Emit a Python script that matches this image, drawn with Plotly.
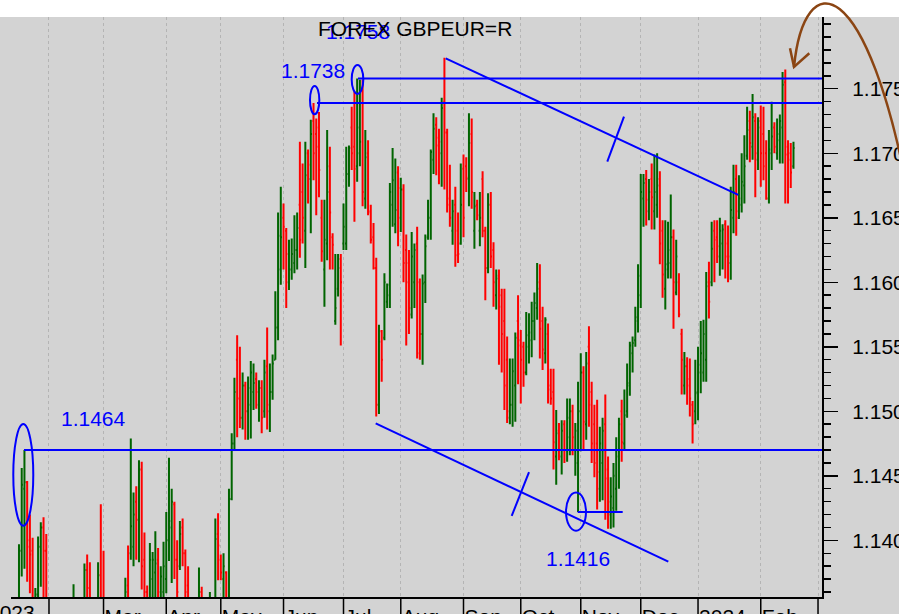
import pandas as pd
import plotly.graph_objects as go

# ---------------- data (daily OHLC, weekdays) ----------------
dates = pd.bdate_range("2023-01-17", "2024-02-19")

opens = [
    # Jan 2023
    1.1330, 1.1392, 1.1440, 1.1445, 1.1400, 1.1392, 1.1335, 1.1358, 1.1395, 1.1410, 1.1392,
    # Feb
    1.1350, 1.1300, 1.1265, 1.1285, 1.1250, 1.1270, 1.1295, 1.1320, 1.1290, 1.1310,
    1.1340, 1.1280, 1.1265, 1.1290, 1.1377, 1.1363, 1.1340, 1.1310, 1.1300, 1.1373,
    # Mar
    1.1350, 1.1330, 1.1300, 1.1290, 1.1275, 1.1250, 1.1270, 1.1300, 1.1330, 1.1365, 1.1390, 1.1395,
    1.1430, 1.1416, 1.1455, 1.1385, 1.1360, 1.1330, 1.1370, 1.1375, 1.1385, 1.1350, 1.1360,
    # Apr
    1.1370, 1.1400, 1.1410, 1.1428, 1.1385, 1.1380, 1.1410, 1.1390, 1.1365, 1.1340,
    1.1310, 1.1340, 1.1320, 1.1360, 1.1340, 1.1310, 1.1330, 1.1350, 1.1335, 1.1405,
    # May
    1.1385, 1.1370, 1.1375, 1.1355, 1.1432, 1.1475, 1.1540, 1.1510, 1.1495, 1.1520, 1.1500, 1.1505,
    1.1515, 1.1525, 1.1505, 1.1518, 1.1500, 1.1535, 1.1500, 1.1515, 1.1540, 1.1565, 1.1610,
    # Jun
    1.1650, 1.1640, 1.1600, 1.1610, 1.1615, 1.1625, 1.1660, 1.1670, 1.1640, 1.1700, 1.1680,
    1.1725, 1.1715, 1.1720, 1.1650, 1.1610, 1.1630, 1.1690, 1.1635, 1.1570, 1.1595, 1.1618,
    # Jul
    1.1630, 1.1630, 1.1684, 1.1720, 1.1705, 1.1690, 1.1700, 1.1750, 1.1665, 1.1700, 1.1655,
    1.1635, 1.1611, 1.1505, 1.1562, 1.1557, 1.1585, 1.1590, 1.1660, 1.1645, 1.1685,
    # Aug
    1.1650, 1.1672, 1.1625, 1.1615, 1.1575, 1.1600, 1.1630, 1.1600, 1.1560, 1.1600, 1.1635, 1.1650,
    1.1695, 1.1722, 1.1712, 1.1700, 1.1740, 1.1716, 1.1665, 1.1640, 1.1660, 1.1640, 1.1630,
    # Sep
    1.1688, 1.1690, 1.1680, 1.1715, 1.1640, 1.1660, 1.1640, 1.1680, 1.1640, 1.1611, 1.1660,
    1.1625, 1.1590, 1.1605, 1.1590, 1.1570, 1.1540, 1.1495, 1.1505, 1.1520, 1.1570,
    # Oct
    1.1555, 1.1550, 1.1530, 1.1550, 1.1555, 1.1570, 1.1580, 1.1600, 1.1570, 1.1545, 1.1560,
    1.1520, 1.1515, 1.1465, 1.1485, 1.1465, 1.1490, 1.1470, 1.1480, 1.1500, 1.1470, 1.1460,
    # Nov
    1.1500, 1.1530, 1.1490, 1.1550, 1.1515, 1.1490, 1.1475, 1.1440, 1.1460, 1.1490, 1.1455,
    1.1420, 1.1425, 1.1440, 1.1465, 1.1500, 1.1475, 1.1500, 1.1520, 1.1545, 1.1555, 1.1570,
    # Dec
    1.1590, 1.1665, 1.1680, 1.1655, 1.1680, 1.1655, 1.1660, 1.1680, 1.1640, 1.1595, 1.1610,
    1.1615, 1.1635, 1.1592, 1.1600, 1.1560, 1.1520, 1.1535, 1.1525, 1.1505, 1.1500,
    # Jan 2024
    1.1515, 1.1530, 1.1530, 1.1540, 1.1600, 1.1600, 1.1640, 1.1635, 1.1620, 1.1630, 1.1645, 1.1630,
    1.1615, 1.1650, 1.1680, 1.1650, 1.1660, 1.1675, 1.1698, 1.1725, 1.1705, 1.1725, 1.1695,
    # Feb 2024
    1.1725, 1.1715, 1.1700, 1.1665, 1.1700, 1.1720, 1.1700, 1.1710, 1.1720, 1.1755, 1.1705, 1.1700, 1.1690,
]

highs = [
    1.1397, 1.1456, 1.1470, 1.1446, 1.1420, 1.1402, 1.1363, 1.1403, 1.1414, 1.1418, 1.1405,
    1.1352, 1.1320, 1.1300, 1.1300, 1.1290, 1.1310, 1.1340, 1.1330, 1.1330, 1.1366,
    1.1345, 1.1300, 1.1300, 1.1382, 1.1389, 1.1383, 1.1350, 1.1340, 1.1383, 1.1428,
    1.1392, 1.1345, 1.1330, 1.1320, 1.1300, 1.1290, 1.1320, 1.1345, 1.1371, 1.1396, 1.1479, 1.1437,
    1.1442, 1.1462, 1.1461, 1.1406, 1.1365, 1.1398, 1.1391, 1.1407, 1.1394, 1.1380, 1.1399,
    1.1422, 1.1464, 1.1440, 1.1430, 1.1400, 1.1415, 1.1417, 1.1393, 1.1380, 1.1355,
    1.1350, 1.1350, 1.1379, 1.1364, 1.1350, 1.1352, 1.1360, 1.1352, 1.1417, 1.1421,
    1.1389, 1.1390, 1.1376, 1.1440, 1.1483, 1.1526, 1.1559, 1.1550, 1.1530, 1.1523, 1.1527, 1.1539,
    1.1537, 1.1530, 1.1524, 1.1524, 1.1540, 1.1565, 1.1537, 1.1544, 1.1593, 1.1654, 1.1674,
    1.1661, 1.1642, 1.1633, 1.1634, 1.1652, 1.1654, 1.1709, 1.1692, 1.1709, 1.1703, 1.1726,
    1.1739, 1.1727, 1.1732, 1.1664, 1.1664, 1.1718, 1.1705, 1.1638, 1.1622, 1.1622, 1.1622,
    1.1661, 1.1705, 1.1706, 1.1736, 1.1748, 1.1758, 1.1757, 1.1757, 1.1718, 1.1710, 1.1660,
    1.1646, 1.1619, 1.1567, 1.1563, 1.1607, 1.1599, 1.1677, 1.1704, 1.1696, 1.1690,
    1.1681, 1.1676, 1.1637, 1.1625, 1.1639, 1.1630, 1.1643, 1.1603, 1.1606, 1.1637, 1.1664, 1.1703,
    1.1731, 1.1728, 1.1719, 1.1743, 1.1774, 1.1719, 1.1691, 1.1664, 1.1674, 1.1654, 1.1692,
    1.1699, 1.1697, 1.1731, 1.1727, 1.1670, 1.1664, 1.1670, 1.1686, 1.1643, 1.1669, 1.1670,
    1.1631, 1.1610, 1.1610, 1.1595, 1.1595, 1.1558, 1.1541, 1.1541, 1.1561, 1.1590,
    1.1563, 1.1554, 1.1577, 1.1576, 1.1585, 1.1592, 1.1615, 1.1614, 1.1581, 1.1573, 1.1568,
    1.1533, 1.1533, 1.1501, 1.1491, 1.1493, 1.1493, 1.1510, 1.1510, 1.1505, 1.1491, 1.1523,
    1.1545, 1.1535, 1.1546, 1.1566, 1.1523, 1.1505, 1.1509, 1.1488, 1.1495, 1.1513, 1.1465,
    1.1449, 1.1460, 1.1480, 1.1495, 1.1509, 1.1517, 1.1537, 1.1554, 1.1558, 1.1581, 1.1614,
    1.1684, 1.1684, 1.1687, 1.1680, 1.1692, 1.1699, 1.1700, 1.1686, 1.1648, 1.1648, 1.1647,
    1.1668, 1.1641, 1.1633, 1.1607, 1.1564, 1.1546, 1.1542, 1.1541, 1.1508, 1.1540,
    1.1550, 1.1570, 1.1571, 1.1608, 1.1616, 1.1647, 1.1648, 1.1648, 1.1650, 1.1645, 1.1648, 1.1644,
    1.1674, 1.1691, 1.1691, 1.1683, 1.1700, 1.1714, 1.1736, 1.1733, 1.1746, 1.1731, 1.1728,
    1.1737, 1.1736, 1.1710, 1.1718, 1.1740, 1.1724, 1.1727, 1.1730, 1.1763, 1.1765, 1.1710, 1.1708, 1.1709,
]

lows = [
    1.1320, 1.1372, 1.1378, 1.1368, 1.1359, 1.1345, 1.1330, 1.1350, 1.1364, 1.1356, 1.1340,
    1.1290, 1.1250, 1.1240, 1.1230, 1.1220, 1.1250, 1.1270, 1.1270, 1.1280, 1.1300,
    1.1260, 1.1240, 1.1245, 1.1285, 1.1330, 1.1320, 1.1290, 1.1280, 1.1295, 1.1330,
    1.1320, 1.1280, 1.1270, 1.1260, 1.1230, 1.1225, 1.1250, 1.1280, 1.1300, 1.1320, 1.1385, 1.1380,
    1.1385, 1.1383, 1.1362, 1.1350, 1.1310, 1.1320, 1.1350, 1.1355, 1.1340, 1.1340, 1.1345,
    1.1359, 1.1384, 1.1367, 1.1370, 1.1345, 1.1377, 1.1380, 1.1345, 1.1330, 1.1300,
    1.1295, 1.1300, 1.1310, 1.1320, 1.1300, 1.1295, 1.1310, 1.1310, 1.1330, 1.1369,
    1.1369, 1.1350, 1.1340, 1.1350, 1.1431, 1.1470, 1.1480, 1.1487, 1.1486, 1.1478, 1.1478, 1.1479,
    1.1501, 1.1502, 1.1492, 1.1483, 1.1495, 1.1486, 1.1484, 1.1509, 1.1540, 1.1555, 1.1598,
    1.1610, 1.1580, 1.1594, 1.1602, 1.1607, 1.1610, 1.1619, 1.1630, 1.1611, 1.1661, 1.1638,
    1.1679, 1.1652, 1.1666, 1.1616, 1.1581, 1.1617, 1.1610, 1.1610, 1.1567, 1.1589, 1.1551,
    1.1625, 1.1625, 1.1674, 1.1687, 1.1647, 1.1678, 1.1690, 1.1659, 1.1657, 1.1652, 1.1630,
    1.1610, 1.1496, 1.1498, 1.1523, 1.1555, 1.1580, 1.1580, 1.1643, 1.1638, 1.1628,
    1.1639, 1.1600, 1.1551, 1.1560, 1.1572, 1.1580, 1.1541, 1.1540, 1.1536, 1.1584, 1.1633, 1.1633,
    1.1684, 1.1683, 1.1676, 1.1674, 1.1672, 1.1654, 1.1643, 1.1629, 1.1612, 1.1615, 1.1629,
    1.1635, 1.1670, 1.1659, 1.1657, 1.1626, 1.1648, 1.1628, 1.1635, 1.1586, 1.1607, 1.1611,
    1.1581, 1.1579, 1.1536, 1.1530, 1.1501, 1.1491, 1.1490, 1.1488, 1.1492, 1.1521,
    1.1506, 1.1519, 1.1528, 1.1537, 1.1542, 1.1555, 1.1571, 1.1541, 1.1532, 1.1537, 1.1506,
    1.1505, 1.1455, 1.1443, 1.1462, 1.1451, 1.1460, 1.1461, 1.1466, 1.1466, 1.1450, 1.1422,
    1.1469, 1.1470, 1.1478, 1.1488, 1.1460, 1.1449, 1.1424, 1.1430, 1.1431, 1.1416, 1.1409,
    1.1409, 1.1410, 1.1423, 1.1440, 1.1461, 1.1470, 1.1495, 1.1512, 1.1530, 1.1550, 1.1561,
    1.1580, 1.1643, 1.1644, 1.1648, 1.1641, 1.1641, 1.1650, 1.1614, 1.1588, 1.1579, 1.1603,
    1.1603, 1.1564, 1.1590, 1.1573, 1.1513, 1.1513, 1.1505, 1.1496, 1.1475, 1.1490,
    1.1493, 1.1514, 1.1523, 1.1523, 1.1572, 1.1597, 1.1600, 1.1615, 1.1605, 1.1610, 1.1603, 1.1600,
    1.1602, 1.1638, 1.1636, 1.1649, 1.1654, 1.1661, 1.1695, 1.1693, 1.1695, 1.1666, 1.1687,
    1.1674, 1.1679, 1.1664, 1.1661, 1.1687, 1.1700, 1.1695, 1.1692, 1.1692, 1.1661, 1.1661, 1.1673, 1.1688,
]

closes = [
    1.1392, 1.1443, 1.1445, 1.1395, 1.1389, 1.1350, 1.1358, 1.1395, 1.1410, 1.1392, 1.1350,
    1.1300, 1.1265, 1.1285, 1.1250, 1.1270, 1.1295, 1.1320, 1.1290, 1.1310, 1.1340,
    1.1280, 1.1265, 1.1290, 1.1377, 1.1363, 1.1340, 1.1310, 1.1300, 1.1373, 1.1350,
    1.1330, 1.1300, 1.1290, 1.1275, 1.1250, 1.1270, 1.1300, 1.1330, 1.1360, 1.1345, 1.1411, 1.1420,
    1.1416, 1.1455, 1.1380, 1.1360, 1.1330, 1.1385, 1.1385, 1.1382, 1.1360, 1.1372, 1.1380,
    1.1400, 1.1415, 1.1430, 1.1385, 1.1360, 1.1405, 1.1390, 1.1360, 1.1340, 1.1320,
    1.1335, 1.1320, 1.1360, 1.1340, 1.1315, 1.1340, 1.1350, 1.1325, 1.1401, 1.1396,
    1.1375, 1.1380, 1.1355, 1.1432, 1.1475, 1.1515, 1.1510, 1.1495, 1.1520, 1.1500, 1.1518, 1.1530,
    1.1522, 1.1515, 1.1518, 1.1495, 1.1530, 1.1505, 1.1515, 1.1537, 1.1565, 1.1636, 1.1635,
    1.1643, 1.1622, 1.1610, 1.1622, 1.1625, 1.1642, 1.1633, 1.1650, 1.1683, 1.1691, 1.1715,
    1.1700, 1.1705, 1.1687, 1.1624, 1.1633, 1.1670, 1.1654, 1.1629, 1.1580, 1.1611, 1.1600,
    1.1643, 1.1684, 1.1704, 1.1700, 1.1688, 1.1720, 1.1709, 1.1670, 1.1697, 1.1654, 1.1633,
    1.1611, 1.1505, 1.1554, 1.1540, 1.1600, 1.1598, 1.1670, 1.1679, 1.1656, 1.1673,
    1.1672, 1.1615, 1.1600, 1.1580, 1.1620, 1.1625, 1.1545, 1.1560, 1.1599, 1.1628, 1.1650, 1.1701,
    1.1719, 1.1706, 1.1709, 1.1735, 1.1716, 1.1660, 1.1650, 1.1655, 1.1621, 1.1622, 1.1660,
    1.1650, 1.1681, 1.1708, 1.1670, 1.1659, 1.1652, 1.1650, 1.1640, 1.1611, 1.1660, 1.1620,
    1.1600, 1.1603, 1.1581, 1.1560, 1.1520, 1.1500, 1.1505, 1.1531, 1.1557, 1.1551,
    1.1540, 1.1530, 1.1559, 1.1561, 1.1570, 1.1584, 1.1595, 1.1564, 1.1548, 1.1571, 1.1517,
    1.1510, 1.1476, 1.1483, 1.1470, 1.1485, 1.1470, 1.1495, 1.1500, 1.1480, 1.1485, 1.1500,
    1.1530, 1.1492, 1.1537, 1.1505, 1.1475, 1.1460, 1.1453, 1.1475, 1.1485, 1.1448, 1.1430,
    1.1434, 1.1450, 1.1470, 1.1490, 1.1476, 1.1497, 1.1522, 1.1551, 1.1553, 1.1573, 1.1605,
    1.1670, 1.1677, 1.1664, 1.1670, 1.1666, 1.1670, 1.1675, 1.1630, 1.1606, 1.1614, 1.1625,
    1.1635, 1.1600, 1.1620, 1.1575, 1.1540, 1.1535, 1.1520, 1.1510, 1.1490, 1.1514,
    1.1536, 1.1545, 1.1560, 1.1597, 1.1585, 1.1626, 1.1633, 1.1628, 1.1640, 1.1641, 1.1620, 1.1620,
    1.1656, 1.1670, 1.1655, 1.1665, 1.1678, 1.1690, 1.1718, 1.1708, 1.1728, 1.1700, 1.1720,
    1.1700, 1.1690, 1.1665, 1.1703, 1.1713, 1.1705, 1.1715, 1.1725, 1.1753, 1.1699, 1.1695, 1.1685, 1.1704,
]

# x-axis month ticks
month_starts = ["2023-02-01", "2023-03-01", "2023-04-03", "2023-05-01", "2023-06-01",
                "2023-07-03", "2023-08-01", "2023-09-01", "2023-10-02", "2023-11-01",
                "2023-12-01", "2024-01-01", "2024-02-01", "2024-03-01"]
month_labels = ["", "Mar", "Apr", "May", "Jun", "Jul", "Aug", "Sep", "Oct", "Nov",
                "Dec", "2024", "Feb", ""]
first_year_label = "2023"

# y-axis labelled ticks
y_ticks = [1.140, 1.145, 1.150, 1.155, 1.160, 1.165, 1.170, 1.175]

# annotated levels: label text, drawn level, line start, line end
level_texts = ["1.1464", "1.1738", "1.1758", "1.1416"]
level_values = [1.1470, 1.1739, 1.1758, 1.1422]
level_starts = ["2023-01-18 20:00", "2023-06-19 06:40", "2023-07-10 07:30", "2023-10-30 21:00"]
level_ends = ["2024-03-04 11:00", "2024-03-04 11:00", "2024-03-04 11:00", "2023-11-22 09:00"]
# label positions
label_x = ["2023-02-23 12:00", "2023-06-15 19:30", "2023-07-10 07:30", "2023-10-31 00:00"]
label_y = [1.14945, 1.17645, 1.17940, 1.13856]
# ellipses around the marked extremes
ell_x0 = ["2023-01-12 21:50", "2023-06-14 17:00", "2023-07-06 00:00", "2023-10-24 14:10"]
ell_x1 = ["2023-01-24 05:45", "2023-06-20 03:00", "2023-07-12 06:15", "2023-11-02 22:05"]
ell_y0 = [1.14114, 1.17302, 1.17460, 1.14075]
ell_y1 = [1.14902, 1.17522, 1.17684, 1.14370]
# trend lines (x0, y0, x1, y1)
trend_lines = [
    ("2023-08-23 11:15", 1.17736, "2024-01-19 18:30", 1.16677),
    ("2023-11-14 17:30", 1.16935, "2023-11-22 20:25", 1.17284),
    ("2023-07-18 19:10", 1.14907, "2023-12-15 02:25", 1.13835),
    ("2023-09-26 16:05", 1.14189, "2023-10-05 00:30", 1.14528),
]

X_RANGE = ["2023-01-12 01:40", "2024-03-04 11:00"]
Y_RANGE = [1.13561, 1.18056]

FONT = "Liberation Sans, Arial, sans-serif"
BLUE = "#0000ff"
GRAY = "#d3d3d3"
BROWN = "#8b4513"

fig = go.Figure(go.Ohlc(
    x=dates, open=opens, high=highs, low=lows, close=closes,
    increasing=dict(line=dict(color="#006400", width=2)),
    decreasing=dict(line=dict(color="#ff0000", width=2)),
    tickwidth=0.45, hoverinfo="skip",
))

shapes = []
# white strip at the very top
shapes.append(dict(type="rect", xref="paper", yref="paper", x0=-0.1, x1=1.2, y0=1.0, y1=1.2,
                   fillcolor="white", line=dict(width=0), layer="below"))
# month boundary tick marks below the axis
for d in month_starts:
    shapes.append(dict(type="line", xref="x", yref="paper", x0=d, x1=d, y0=0, y1=-0.06,
                       line=dict(color="black", width=1.5), layer="above"))
# horizontal levels
for v, s, e in zip(level_values, level_starts, level_ends):
    shapes.append(dict(type="line", xref="x", yref="y", x0=s, x1=e, y0=v, y1=v,
                       line=dict(color=BLUE, width=2), layer="above"))
# ellipses
for a, b, c, d in zip(ell_x0, ell_x1, ell_y0, ell_y1):
    shapes.append(dict(type="circle", xref="x", yref="y", x0=a, x1=b, y0=c, y1=d,
                       line=dict(color=BLUE, width=2), layer="above"))
# trend lines
for a, b, c, d in trend_lines:
    shapes.append(dict(type="line", xref="x", yref="y", x0=a, y0=b, x1=c, y1=d,
                       line=dict(color=BLUE, width=2), layer="above"))
# brown curved arrow (hand drawn)
shapes.append(dict(type="path", xref="paper", yref="paper",
                   path="M 0.96548,0.91379 C 0.97800,1.09000 1.05600,1.08300 1.10900,0.67500",
                   line=dict(color=BROWN, width=2.5), layer="above"))
shapes.append(dict(type="path", xref="paper", yref="paper",
                   path="M 0.96054,0.94603 L 0.96548,0.91379 L 0.98434,0.93741",
                   line=dict(color=BROWN, width=2.5), layer="above"))

annotations = []
for t, x, y in zip(level_texts, label_x, label_y):
    annotations.append(dict(text=t, x=x, y=y, xref="x", yref="y", showarrow=False,
                            font=dict(family=FONT, size=21, color=BLUE),
                            xanchor="center", yanchor="middle"))
annotations.append(dict(text=first_year_label, x=-0.031, y=-0.004, xref="paper", yref="paper",
                        showarrow=False, xanchor="left", yanchor="top",
                        font=dict(family=FONT, size=21, color="black")))
annotations.append(dict(text="FOREX GBPEUR=R", x=0.498, y=0.981, xref="paper", yref="paper",
                        showarrow=False, xanchor="center", yanchor="middle",
                        font=dict(family=FONT, size=21, color="black")))

fig.update_layout(
    width=899, height=614, autosize=False,
    margin=dict(l=11, r=77, t=17, b=17, pad=0),
    paper_bgcolor=GRAY, plot_bgcolor=GRAY,
    showlegend=False, hovermode=False,
    font=dict(family=FONT, size=21, color="black"),
    shapes=shapes, annotations=annotations,
    xaxis=dict(
        type="date", range=X_RANGE, automargin=False,
        rangebreaks=[dict(bounds=["sat", "mon"])],
        rangeslider=dict(visible=False),
        tickmode="array", tickvals=month_starts, ticktext=month_labels,
        ticks="", ticklabelposition="outside right",
        showgrid=True, gridcolor="#b4b4b4", griddash="dot", gridwidth=1,
        showline=True, linecolor="black", linewidth=2, zeroline=False,
        tickfont=dict(family=FONT, size=21, color="black"),
    ),
    yaxis=dict(
        side="right", range=Y_RANGE, automargin=False,
        tickmode="array", tickvals=y_ticks, tickformat=".3f",
        ticks="outside", ticklen=14, tickwidth=1.5, tickcolor="black",
        minor=dict(tickmode="linear", dtick=0.001, tick0=1.14, ticks="outside", ticklen=7,
                   tickwidth=1.5, tickcolor="black", showgrid=False),
        showline=True, linecolor="black", linewidth=2,
        showgrid=False, zeroline=False, ticklabelstandoff=10,
        tickfont=dict(family=FONT, size=21, color="black"),
    ),
)

fig.write_html(
    "out.html",
    config={"displayModeBar": False, "staticPlot": True},
    post_script="document.body.style.margin='0px';document.body.style.padding='0px';"
                "document.body.style.overflow='hidden';",
)
